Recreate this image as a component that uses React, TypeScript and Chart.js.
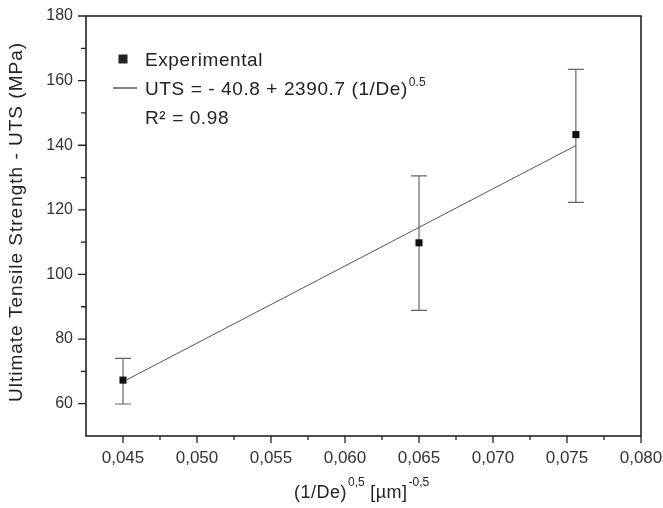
import React, { useEffect, useRef } from "react";
import { Chart, registerables } from "chart.js";

Chart.register(...registerables);

// ---- data ----
const expX = [0.045, 0.065, 0.0756];
const expY = [67.3, 109.8, 143.3];
const errLow = [59.9, 88.9, 122.3];
const errHigh = [74.0, 130.5, 163.5];

const fitX = [0.045, 0.0756];
const fitY = [66.8, 139.9];

const xMajorTicks = [0.045, 0.05, 0.055, 0.06, 0.065, 0.07, 0.075, 0.08];
const xTickLabels = ["0,045", "0,050", "0,055", "0,060", "0,065", "0,070", "0,075", "0,080"];
const xMinorTicks = [0.0475, 0.0525, 0.0575, 0.0625, 0.0675, 0.0725, 0.0775];
const yMajorTicks = [60, 80, 100, 120, 140, 160, 180];
const yTickLabels = ["60", "80", "100", "120", "140", "160", "180"];
const yMinorTicks = [70, 90, 110, 130, 150, 170];

const xMin = 0.0425;
const xMax = 0.08;
const yMin = 50;
const yMax = 180;

const legendLabels = ["Experimental", "UTS = - 40.8 + 2390.7 (1/De)", "R\u00B2 = 0.98"];
const legendSup = "0.5";
const yTitle = "Ultimate Tensile Strength - UTS (MPa)";

const FONT = "'Liberation Sans', Arial, sans-serif";

const decorPlugin = {
  id: "decor",
  beforeDatasetsDraw(chart: any) {
    const ctx = chart.ctx;
    const xs = chart.scales.x;
    const ys = chart.scales.y;
    ctx.save();
    ctx.strokeStyle = "#666";
    ctx.lineWidth = 1.2;
    for (let i = 0; i < expX.length; i++) {
      const px = xs.getPixelForValue(expX[i]);
      const pl = ys.getPixelForValue(errLow[i]);
      const ph = ys.getPixelForValue(errHigh[i]);
      ctx.beginPath();
      ctx.moveTo(px, pl);
      ctx.lineTo(px, ph);
      ctx.moveTo(px - 8, pl);
      ctx.lineTo(px + 8, pl);
      ctx.moveTo(px - 8, ph);
      ctx.lineTo(px + 8, ph);
      ctx.stroke();
    }
    ctx.restore();
  },
  afterDraw(chart: any) {
    const ctx = chart.ctx;
    const a = chart.chartArea;
    const xs = chart.scales.x;
    const ys = chart.scales.y;
    ctx.save();
    // frame
    ctx.strokeStyle = "#222";
    ctx.lineWidth = 1.6;
    ctx.strokeRect(a.left, a.top, a.right - a.left, a.bottom - a.top);
    // ticks
    ctx.lineWidth = 1.3;
    ctx.beginPath();
    xMajorTicks.forEach((v) => {
      const p = xs.getPixelForValue(v);
      ctx.moveTo(p, a.bottom);
      ctx.lineTo(p, a.bottom + 7);
    });
    xMinorTicks.forEach((v) => {
      const p = xs.getPixelForValue(v);
      ctx.moveTo(p, a.bottom);
      ctx.lineTo(p, a.bottom + 4);
    });
    yMajorTicks.forEach((v) => {
      const p = ys.getPixelForValue(v);
      ctx.moveTo(a.left, p);
      ctx.lineTo(a.left - 8, p);
    });
    yMinorTicks.forEach((v) => {
      const p = ys.getPixelForValue(v);
      ctx.moveTo(a.left, p);
      ctx.lineTo(a.left - 5, p);
    });
    ctx.stroke();

    // legend
    ctx.fillStyle = "#222";
    ctx.fillRect(a.left + 32.5, a.top + 38.5, 9, 9);
    ctx.strokeStyle = "#333";
    ctx.lineWidth = 1.2;
    ctx.beginPath();
    ctx.moveTo(a.left + 27, a.top + 72);
    ctx.lineTo(a.left + 51, a.top + 72);
    ctx.stroke();

    ctx.fillStyle = "#222";
    ctx.textBaseline = "alphabetic";
    ctx.textAlign = "left";
    ctx.font = `19px ${FONT}`;
    (ctx as any).letterSpacing = "0.6px";
    const tx = a.left + 59;
    ctx.fillText(legendLabels[0], tx, a.top + 50);
    ctx.fillText(legendLabels[1], tx, a.top + 79);
    const w1 = ctx.measureText(legendLabels[1]).width;
    ctx.fillText(legendLabels[2], tx, a.top + 108);
    ctx.font = `12px ${FONT}`;
    (ctx as any).letterSpacing = "0px";
    ctx.fillText(legendSup, tx + w1 + 1, a.top + 70);

    // x title
    let cx = 294;
    const baseY = 498;
    const parts: [string, boolean][] = [
      ["(1/De)", false],
      ["0,5", true],
      [" [\u00B5m]", false],
      ["-0,5", true],
    ];
    parts.forEach(([t, sup]) => {
      ctx.font = sup ? `12px ${FONT}` : `18px ${FONT}`;
      (ctx as any).letterSpacing = sup ? "0px" : "0.5px";
      ctx.fillText(t, cx + (sup ? 1 : 0), sup ? baseY - 12 : baseY);
      cx += ctx.measureText(t).width + (sup ? 1 : 0);
    });

    // y title
    ctx.save();
    ctx.font = `19px ${FONT}`;
    (ctx as any).letterSpacing = "1px";
    ctx.translate(17, 222);
    ctx.rotate(-Math.PI / 2);
    ctx.textAlign = "center";
    ctx.textBaseline = "middle";
    ctx.fillText(yTitle, 0, 0);
    ctx.restore();

    ctx.restore();
  },
};

function App() {
  const ref = useRef<HTMLCanvasElement | null>(null);
  useEffect(() => {
    if (!ref.current) return;
    const chart = new Chart(ref.current, {
      type: "scatter",
      data: {
        datasets: [
          {
            type: "line",
            label: "fit",
            data: fitX.map((x, i) => ({ x, y: fitY[i] })),
            borderColor: "#555",
            borderWidth: 1,
            pointRadius: 0,
            fill: false,
            order: 2,
          } as any,
          {
            label: "Experimental",
            data: expX.map((x, i) => ({ x, y: expY[i] })),
            pointStyle: "rect",
            pointRadius: 5,
            backgroundColor: "#111",
            borderColor: "#111",
            borderWidth: 0,
            order: 1,
          },
        ],
      },
      options: {
        animation: false,
        responsive: true,
        maintainAspectRatio: false,
        layout: { padding: { top: 16, right: 22, left: 0, bottom: 0 } },
        plugins: { legend: { display: false }, tooltip: { enabled: false } },
        scales: {
          x: {
            type: "linear",
            min: xMin,
            max: xMax,
            grid: { display: false, drawTicks: false },
            border: { display: false },
            afterBuildTicks: (s: any) => {
              s.ticks = xMajorTicks.map((v) => ({ value: v }));
            },
            afterFit: (s: any) => {
              s.height = 72;
              s.paddingLeft = 0;
              s.paddingRight = 0;
            },
            ticks: {
              autoSkip: false,
              maxRotation: 0,
              padding: 12,
              color: "#333",
              font: { family: FONT, size: 17 },
              callback: (_v: any, i: number) => xTickLabels[i],
            },
          },
          y: {
            type: "linear",
            min: yMin,
            max: yMax,
            grid: { display: false, drawTicks: false },
            border: { display: false },
            afterBuildTicks: (s: any) => {
              s.ticks = yMajorTicks.map((v) => ({ value: v }));
            },
            afterFit: (s: any) => {
              s.width = 86;
              s.paddingTop = 0;
              s.paddingBottom = 0;
            },
            ticks: {
              autoSkip: false,
              padding: 13,
              color: "#333",
              font: { family: FONT, size: 16 },
              callback: (_v: any, i: number) => yTickLabels[i],
            },
          },
        },
      },
      plugins: [decorPlugin],
    });
    return () => chart.destroy();
  }, []);
  return (
    <div style={{ position: "absolute", left: 0, top: 0, width: 663, height: 508, background: "#fff" }}>
      <canvas ref={ref} />
    </div>
  );
}

export default App;
